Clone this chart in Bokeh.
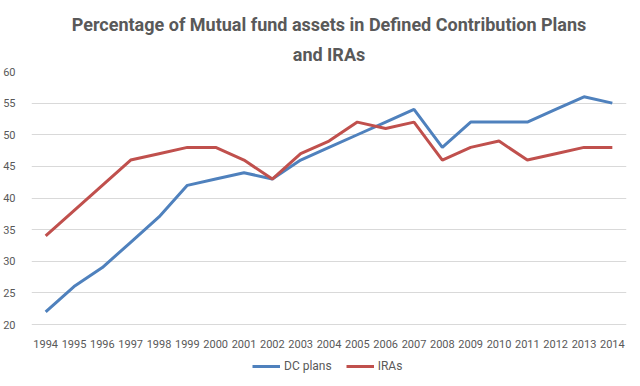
from bokeh.plotting import figure
from bokeh.models import Range1d, FixedTicker, Legend, LegendItem, Title, ColumnDataSource
from bokeh.core.properties import value
from bokeh.embed import file_html
from bokeh.resources import INLINE

years = list(range(1994, 2015))
dc_plans = [22, 26, 29, 33, 37, 42, 43, 44, 43, 46, 48, 50, 52, 54, 48, 52, 52, 52, 54, 56, 55]
iras = [34, 38, 42, 46, 47, 48, 48, 46, 43, 47, 49, 52, 51, 52, 46, 48, 49, 46, 47, 48, 48]
y_ticks = [20, 25, 30, 35, 40, 45, 50, 55, 60]
year_labels = [str(y) for y in years]
title_line1 = "Percentage of Mutual fund assets in Defined Contribution Plans"
title_line2 = "and IRAs"

FONT = "Roboto"
GRAY = "#595959"

# scale: plot body 253 px for 20..60; extra 54 px below for year labels and legend
px_per_unit = 253 / 40.0
y_bottom = 20 - 54 / px_per_unit

p = figure(frame_width=595, frame_height=307, output_backend="svg", toolbar_location=None,
           x_range=Range1d(1993.5, 2014.5), y_range=Range1d(y_bottom, 60),
           min_border_left=23, min_border_right=6, min_border_top=71, min_border_bottom=0)
p.add_layout(Title(text=title_line2, align="center", text_font=FONT, text_font_size="18px",
                   text_font_style="bold", text_color=GRAY, standoff=14), "above")
p.add_layout(Title(text=title_line1, align="center", text_font=FONT, text_font_size="18px",
                   text_font_style="bold", text_color=GRAY, offset=0, standoff=0), "above")

p.outline_line_color = None
p.background_fill_color = "white"
p.border_fill_color = "white"

p.xgrid.grid_line_color = None
p.ygrid.grid_line_color = "#D9D9D9"
p.ygrid.grid_line_width = 1
p.yaxis.ticker = FixedTicker(ticks=y_ticks)
p.xaxis.visible = False

ax = p.yaxis[0]
ax.axis_line_color = None
ax.major_tick_line_color = None
ax.minor_tick_line_color = None
ax.major_label_text_font = FONT
ax.major_label_text_font_size = "11px"
ax.major_label_text_color = GRAY
ax.major_label_standoff = 10

# year labels under the plot body
label_src = ColumnDataSource(dict(x=years, y=[20 - 19 / px_per_unit] * len(years), t=year_labels))
p.text(x="x", y="y", text="t", source=label_src, text_font=value(FONT), text_font_size="11px",
       text_color=GRAY, text_align="center", text_baseline="middle")

r1 = p.line(years, dc_plans, line_color="#4F81BD", line_width=3)
r2 = p.line(years, iras, line_color="#C0504D", line_width=3)

legend = Legend(items=[LegendItem(label="DC plans", renderers=[r1]),
                       LegendItem(label="IRAs", renderers=[r2])],
                orientation="horizontal", location=(221, 5),
                label_text_font=FONT, label_text_font_size="12px", label_text_color=GRAY,
                glyph_width=28, glyph_height=10, label_height=12, spacing=14, padding=2, margin=0,
                border_line_color=None, background_fill_alpha=0, label_standoff=4)
p.add_layout(legend, "center")

open("out.html", "w").write(file_html(p, INLINE))
